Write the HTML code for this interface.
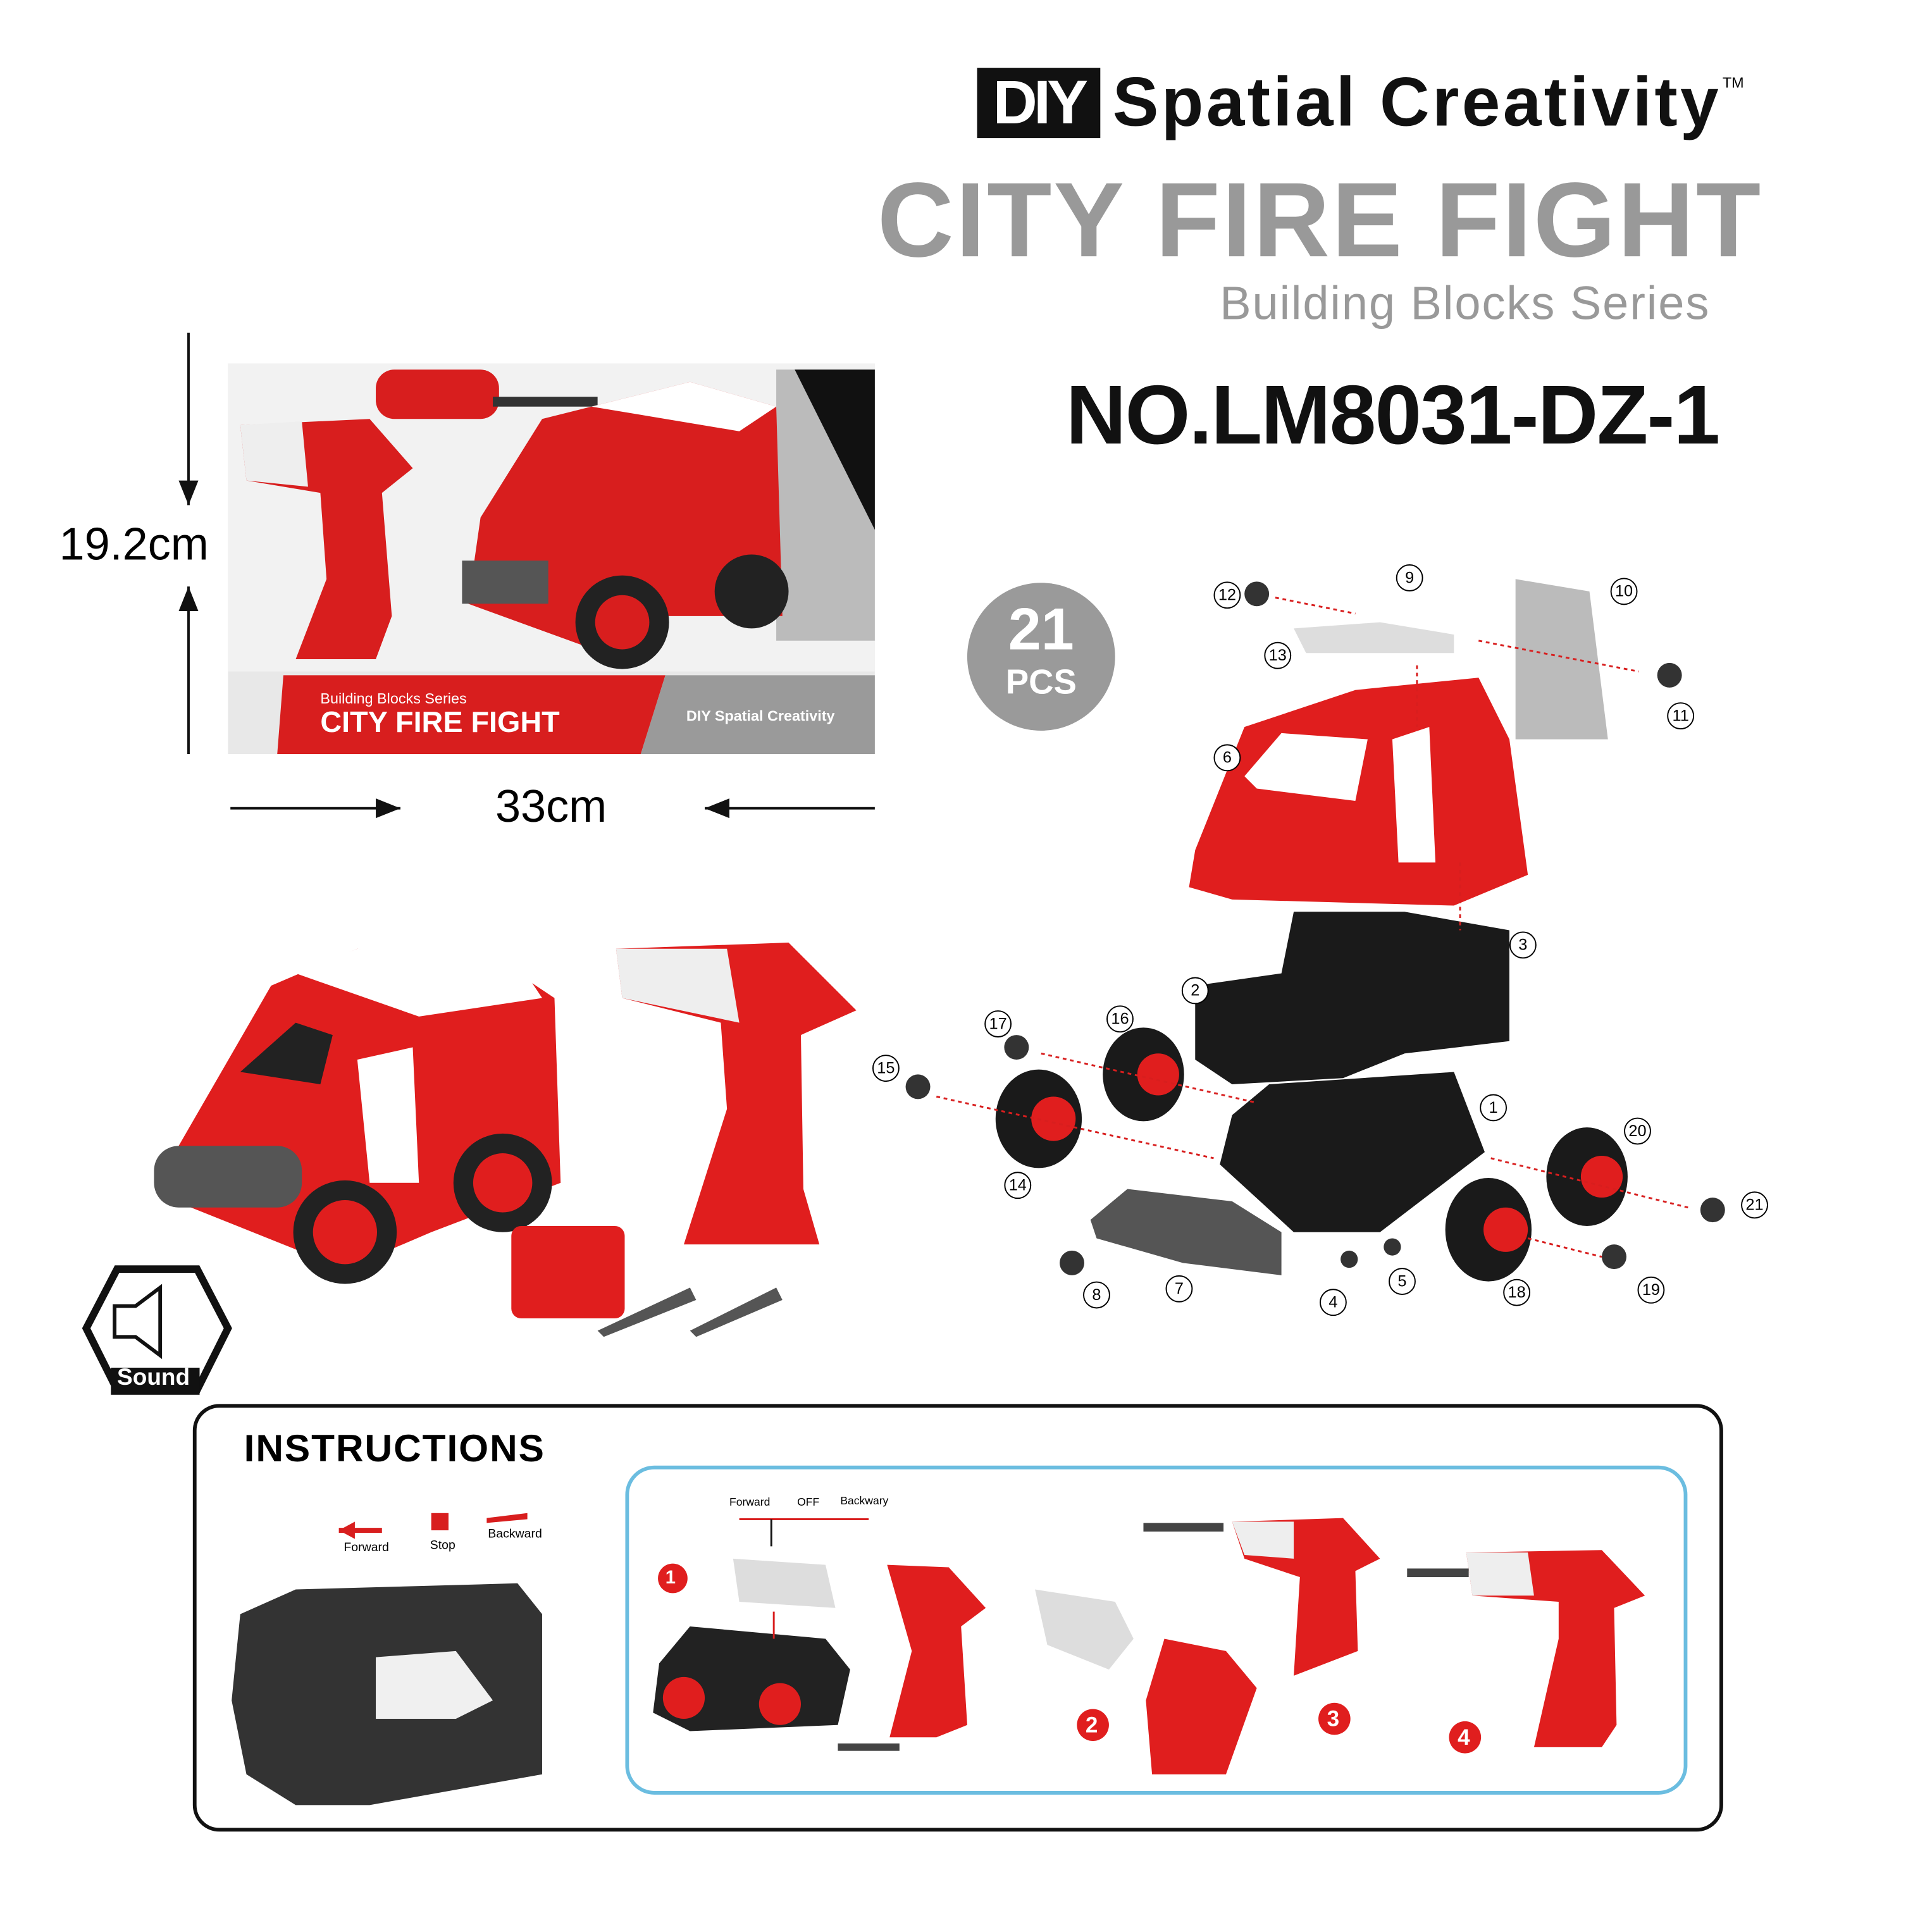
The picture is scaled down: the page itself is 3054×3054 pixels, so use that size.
<!DOCTYPE html>
<html><head><meta charset="utf-8"><style>
html,body{margin:0;padding:0;background:#fff;}
#wrap{width:3054px;height:3054px;overflow:hidden;position:relative;background:#fff;}
#c{position:absolute;left:0;top:0;width:1568px;height:1568px;transform:scale(1.9477);transform-origin:0 0;font-family:"Liberation Sans",sans-serif;}
.a{position:absolute;}
.n{position:absolute;font-size:15px;width:20px;height:20px;border:1px solid #000;border-radius:50%;text-align:center;line-height:20px;font-size:13px;background:#fff;}
</style></head><body><div id="wrap"><div id="c">
<div class="a" style="left:793px;top:55px;width:100px;height:57px;background:#111;color:#fff;font-weight:bold;font-size:50px;line-height:57px;text-align:center;letter-spacing:-3px;">DIY</div>
<div class="a" style="left:903px;top:50px;font-weight:bold;font-size:56px;color:#111;letter-spacing:2.2px;">Spatial Creativity</div>
<div class="a" style="left:1398px;top:60px;font-size:12px;">TM</div>
<div class="a" style="left:712px;top:130px;font-weight:bold;font-size:86px;color:#999;letter-spacing:1.5px;">CITY FIRE FIGHT</div>
<div class="a" style="left:990px;top:226px;font-size:38px;color:#999;letter-spacing:1px;">Building Blocks Series</div>
<div class="a" style="left:865px;top:298px;font-weight:bold;font-size:68px;color:#111;letter-spacing:-1px;">NO.LM8031-DZ-1</div>
<svg class="a" style="left:0;top:0" width="1568" height="1568">
<defs><marker id="ar" markerWidth="10" markerHeight="8" refX="10" refY="4" orient="auto"><path d="M0,0L10,4L0,8z" fill="#111"/></marker></defs>
<rect x="185" y="295" width="525" height="317" fill="#e8e8e8"/>
<rect x="185" y="295" width="525" height="250" fill="#f2f2f2"/>
<polygon points="230,548 540,548 520,612 225,612" fill="#d81e1e"/>
<polygon points="540,548 710,548 710,612 520,612" fill="#9a9a9a"/>
<polygon points="630,300 710,300 710,520 630,520" fill="#bbb"/>
<polygon points="645,300 710,300 710,430" fill="#111"/>
<path d="M195,345 L300,340 L335,380 L310,400 L318,500 L305,535 L240,535 L265,470 L260,400 L200,390Z" fill="#d81e1e"/>
<path d="M195,345 L245,342 L250,395 L200,390Z" fill="#eee"/>
<rect x="305" y="300" width="100" height="40" rx="15" fill="#d81e1e"/>
<rect x="400" y="322" width="85" height="8" fill="#333"/>
<path d="M390,420 L440,340 L560,310 L630,330 L635,500 L520,500 L490,530 L380,490Z" fill="#d81e1e"/>
<path d="M480,330 L560,310 L630,330 L600,350 Z" fill="#fff"/>
<circle cx="505" cy="505" r="38" fill="#222"/><circle cx="505" cy="505" r="22" fill="#d81e1e"/>
<circle cx="610" cy="480" r="30" fill="#222"/>
<rect x="375" y="455" width="70" height="35" fill="#555"/>
<line x1="153" y1="270" x2="153" y2="410" stroke="#111" stroke-width="2" marker-end="url(#ar)"/>
<line x1="153" y1="612" x2="153" y2="476" stroke="#111" stroke-width="2" marker-end="url(#ar)"/>
<line x1="187" y1="656" x2="325" y2="656" stroke="#111" stroke-width="2" marker-end="url(#ar)"/>
<line x1="710" y1="656" x2="572" y2="656" stroke="#111" stroke-width="2" marker-end="url(#ar)"/>
<circle cx="845" cy="533" r="60" fill="#9a9a9a"/>
<path d="M145,930 L220,800 L290,770 L420,790 L450,810 L455,960 L350,1000 L280,1030 L130,970Z" fill="#e01e1e"/>
<path d="M240,790 L290,770 L420,780 L440,810 L340,825 Z" fill="#fff"/>
<path d="M290,860 L335,850 L340,960 L300,960Z" fill="#fff"/>
<path d="M195,870 L240,830 L270,840 L260,880Z" fill="#222"/>
<rect x="125" y="930" width="120" height="50" rx="20" fill="#555"/>
<circle cx="280" cy="1000" r="42" fill="#222"/><circle cx="280" cy="1000" r="26" fill="#e01e1e"/>
<circle cx="408" cy="960" r="40" fill="#222"/><circle cx="408" cy="960" r="24" fill="#e01e1e"/>
<path d="M500,770 L640,765 L695,820 L650,840 L652,965 L665,1010 L555,1010 L590,900 L585,830 L505,810Z" fill="#e01e1e"/>
<path d="M500,770 L590,770 L600,830 L505,810Z" fill="#eee"/>
<rect x="415" y="995" width="92" height="75" rx="8" fill="#e01e1e"/>
<polygon points="485,1080 560,1045 565,1055 490,1085" fill="#555"/>
<polygon points="560,1080 630,1045 635,1055 565,1085" fill="#555"/>
<polygon points="95,1030 160,1030 185,1078 160,1128 95,1128 70,1078" fill="#fff" stroke="#111" stroke-width="6"/>
<path d="M93,1060 L110,1060 L130,1045 L130,1100 L110,1085 L93,1085Z" fill="none" stroke="#111" stroke-width="3"/>
<rect x="90" y="1110" width="72" height="22" fill="#111"/>
<path d="M970,690 L1010,590 L1100,560 L1200,550 L1225,600 L1240,710 L1180,735 L1000,730 L965,720Z" fill="#e01e1e"/>
<path d="M1010,630 L1040,595 L1110,600 L1100,650 L1020,640Z" fill="#fff"/>
<path d="M1130,600 L1160,590 L1165,700 L1135,700Z" fill="#fff"/>
<path d="M1230,470 L1290,480 L1305,600 L1230,600Z" fill="#bbb"/>
<path d="M1050,510 L1120,505 L1180,515 L1180,530 L1060,530Z" fill="#ddd"/>
<path d="M1050,740 L1140,740 L1225,755 L1225,845 L1140,855 L1090,875 L1000,880 L970,860 L970,800 L1040,790Z" fill="#1a1a1a"/>
<path d="M1000,905 L1030,880 L1180,870 L1205,935 L1120,1000 L1050,1000 L990,945Z" fill="#1a1a1a"/>
<path d="M885,990 L915,965 L1000,975 L1040,1000 L1040,1035 L960,1025 L890,1005Z" fill="#555"/>
<ellipse cx="843" cy="908" rx="35" ry="40" fill="#1a1a1a"/><circle cx="855" cy="908" r="18" fill="#e01e1e"/>
<ellipse cx="928" cy="872" rx="33" ry="38" fill="#1a1a1a"/><circle cx="940" cy="872" r="17" fill="#e01e1e"/>
<ellipse cx="1208" cy="998" rx="35" ry="42" fill="#1a1a1a"/><circle cx="1222" cy="998" r="18" fill="#e01e1e"/>
<ellipse cx="1288" cy="955" rx="33" ry="40" fill="#1a1a1a"/><circle cx="1300" cy="955" r="17" fill="#e01e1e"/>
<g fill="#333"><circle cx="1020" cy="482" r="10"/><circle cx="1355" cy="548" r="10"/><circle cx="825" cy="850" r="10"/><circle cx="745" cy="882" r="10"/><circle cx="870" cy="1025" r="10"/><circle cx="1390" cy="982" r="10"/><circle cx="1310" cy="1020" r="10"/><circle cx="1095" cy="1022" r="7"/><circle cx="1130" cy="1012" r="7"/></g>
<g stroke="#d81e1e" stroke-dasharray="3,3" stroke-width="1.5" fill="none">
<line x1="1035" y1="485" x2="1100" y2="498"/><line x1="1200" y1="520" x2="1330" y2="545"/><line x1="760" y1="890" x2="985" y2="940"/><line x1="845" y1="855" x2="1020" y2="895"/><line x1="1210" y1="940" x2="1370" y2="980"/><line x1="1240" y1="1005" x2="1300" y2="1020"/><line x1="1185" y1="700" x2="1185" y2="755"/><line x1="1150" y1="540" x2="1150" y2="590"/>
</g>
<rect x="158" y="1141" width="1239" height="344" rx="20" fill="none" stroke="#111" stroke-width="3"/>
<rect x="509" y="1191" width="859" height="264" rx="22" fill="none" stroke="#6bbde0" stroke-width="3"/>
<path d="M195,1310 L240,1290 L420,1285 L440,1310 L440,1440 L300,1465 L240,1465 L200,1440 L188,1380Z" fill="#333"/>
<path d="M305,1345 L370,1340 L400,1380 L370,1395 L305,1395Z" fill="#f0f0f0"/>
<polygon points="275,1240 310,1240 310,1244 275,1244" fill="#d81e1e"/><polygon points="275,1242 288,1235 288,1249" fill="#d81e1e"/>
<rect x="350" y="1228" width="14" height="14" fill="#d81e1e"/>
<polygon points="395,1232 428,1228 428,1233 395,1236" fill="#d81e1e"/>
<path d="M535,1350 L560,1320 L670,1330 L690,1355 L680,1400 L560,1405 L530,1390Z" fill="#222"/>
<circle cx="555" cy="1378" r="17" fill="#e01e1e"/><circle cx="633" cy="1383" r="17" fill="#e01e1e"/>
<path d="M595,1265 L670,1270 L678,1305 L600,1300Z" fill="#ddd"/>
<path d="M720,1270 L770,1272 L800,1305 L780,1320 L785,1400 L760,1410 L722,1410 L740,1340Z" fill="#e01e1e"/>
<path d="M840,1290 L905,1300 L920,1330 L900,1355 L850,1335Z" fill="#ddd"/>
<path d="M945,1330 L995,1340 L1020,1370 L995,1440 L935,1440 L930,1380Z" fill="#e01e1e"/>
<path d="M1000,1235 L1090,1232 L1120,1265 L1100,1275 L1102,1340 L1050,1360 L1055,1280 L1010,1265Z" fill="#e01e1e"/>
<path d="M1000,1235 L1050,1235 L1050,1265 L1010,1262Z" fill="#eee"/>
<rect x="928" y="1236" width="65" height="7" fill="#444"/>
<path d="M1190,1260 L1300,1258 L1335,1295 L1310,1305 L1312,1400 L1300,1418 L1245,1418 L1265,1330 L1265,1300 L1195,1295Z" fill="#e01e1e"/>
<path d="M1190,1260 L1240,1260 L1245,1295 L1195,1295Z" fill="#eee"/>
<rect x="1142" y="1273" width="50" height="7" fill="#444"/>
<rect x="680" y="1415" width="50" height="6" fill="#444"/>
<g fill="#e01e1e"><circle cx="546" cy="1281" r="12"/><circle cx="887" cy="1400" r="13"/><circle cx="1083" cy="1395" r="13"/><circle cx="1189" cy="1410" r="13"/></g>
<line x1="600" y1="1233" x2="705" y2="1233" stroke="#d81e1e" stroke-width="1.5"/>
<line x1="626" y1="1233" x2="626" y2="1255" stroke="#111" stroke-width="1.5"/>
<line x1="628" y1="1308" x2="628" y2="1330" stroke="#d81e1e" stroke-width="1.5"/>
</svg>
<div class="a" style="left:48px;top:421px;font-size:37px;">19.2cm</div>
<div class="a" style="left:402px;top:634px;font-size:37px;">33cm</div>
<div class="a" style="left:260px;top:560px;font-size:12px;color:#fff;">Building Blocks Series</div>
<div class="a" style="left:260px;top:573px;font-size:24px;font-weight:bold;color:#fff;">CITY FIRE FIGHT</div>
<div class="a" style="left:557px;top:574px;font-size:12px;font-weight:bold;color:#fff;">DIY Spatial Creativity</div>
<div class="a" style="left:785px;top:488px;width:120px;text-align:center;color:#fff;font-weight:bold;font-size:48px;line-height:48px;">21</div>
<div class="a" style="left:785px;top:538px;width:120px;text-align:center;color:#fff;font-weight:bold;font-size:28px;">PCS</div>
<div class="a" style="left:95px;top:1108px;font-size:19px;color:#fff;font-weight:bold;">Sound</div>
<div class="a" style="left:198px;top:1158px;font-size:31px;font-weight:bold;letter-spacing:1px;">INSTRUCTIONS</div>
<div class="a" style="left:279px;top:1251px;font-size:10px;">Forward</div>
<div class="a" style="left:349px;top:1249px;font-size:10px;">Stop</div>
<div class="a" style="left:396px;top:1240px;font-size:10px;">Backward</div>
<div class="a" style="left:592px;top:1214px;font-size:9px;">Forward</div>
<div class="a" style="left:647px;top:1214px;font-size:9px;">OFF</div>
<div class="a" style="left:682px;top:1213px;font-size:9px;">Backwary</div>
<div class="a" style="left:540px;top:1272px;font-size:15px;color:#fff;font-weight:bold;">1</div>
<div class="a" style="left:881px;top:1390px;font-size:18px;color:#fff;font-weight:bold;">2</div>
<div class="a" style="left:1077px;top:1385px;font-size:18px;color:#fff;font-weight:bold;">3</div>
<div class="a" style="left:1183px;top:1400px;font-size:18px;color:#fff;font-weight:bold;">4</div>
<div class="n" style="left:1133px;top:458px;">9</div>
<div class="n" style="left:985px;top:472px;">12</div>
<div class="n" style="left:1307px;top:469px;">10</div>
<div class="n" style="left:1353px;top:570px;">11</div>
<div class="n" style="left:1026px;top:521px;">13</div>
<div class="n" style="left:985px;top:604px;">6</div>
<div class="n" style="left:1225px;top:756px;">3</div>
<div class="n" style="left:959px;top:793px;">2</div>
<div class="n" style="left:898px;top:816px;">16</div>
<div class="n" style="left:799px;top:820px;">17</div>
<div class="n" style="left:708px;top:856px;">15</div>
<div class="n" style="left:1201px;top:888px;">1</div>
<div class="n" style="left:1318px;top:907px;">20</div>
<div class="n" style="left:1413px;top:967px;">21</div>
<div class="n" style="left:815px;top:951px;">14</div>
<div class="n" style="left:1127px;top:1029px;">5</div>
<div class="n" style="left:946px;top:1035px;">7</div>
<div class="n" style="left:879px;top:1040px;">8</div>
<div class="n" style="left:1071px;top:1046px;">4</div>
<div class="n" style="left:1220px;top:1038px;">18</div>
<div class="n" style="left:1329px;top:1036px;">19</div>
</div></div></body></html>
